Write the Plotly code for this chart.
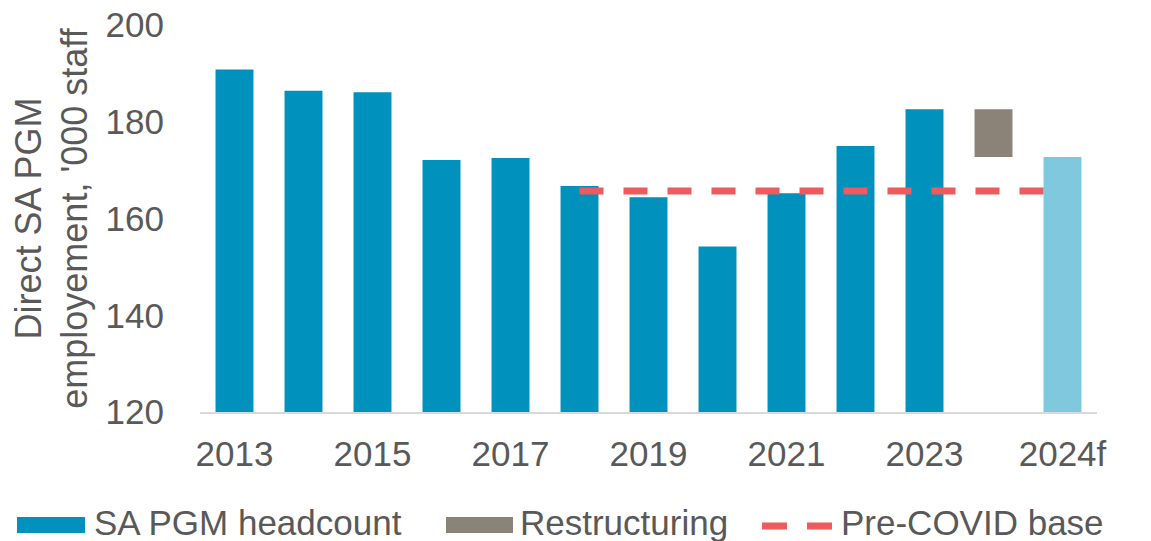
import plotly.graph_objects as go

categories = ["2013", "2014", "2015", "2016", "2017", "2018", "2019", "2020",
              "2021", "2022", "2023", " ", "2024f"]
headcount_x = ["2013", "2014", "2015", "2016", "2017", "2018", "2019", "2020",
               "2021", "2022", "2023", "2024f"]
headcount = [190.8, 186.4, 186.1, 172.1, 172.5, 166.7, 164.4, 154.2,
             165.2, 175.0, 182.6, 172.7]
restructuring_x = [" "]
restructuring_low = [172.7]
restructuring_high = [182.6]
precovid_x = ["2018", "2019", "2020", "2021", "2022", "2023", " ", "2024f"]
precovid = [165.7] * 8
tick_labels = ["2013", "2015", "2017", "2019", "2021", "2023", "2024f"]
y_ticks = [120, 140, 160, 180, 200]
legend_names = ["SA PGM headcount", "Restructuring", "Pre-COVID base"]

BLUE = "#0091BD"
LIGHT_BLUE = "#7FC8DE"
GRAY = "#8B8378"
RED = "#EE5B5E"
TEXT = "#595959"
FONT = "Liberation Sans, Arial, sans-serif"

W, H = 1151, 541
ML, MR, MT, MB = 200, 54, 25, 129
PW, PH = W - ML - MR, H - MT - MB


def px_x(p):
    return (p - ML) / PW


def px_y(p):
    return (H - MB - p) / PH


bar_colors = [BLUE] * (len(headcount) - 1) + [LIGHT_BLUE]

fig = go.Figure()
fig.add_trace(go.Bar(
    x=headcount_x, y=[v - 120 for v in headcount], base=120,
    marker=dict(color=bar_colors, line=dict(width=0)),
    name=legend_names[0], showlegend=False,
))
fig.add_trace(go.Bar(
    x=restructuring_x,
    y=[h - l for h, l in zip(restructuring_high, restructuring_low)],
    base=restructuring_low,
    marker=dict(color=GRAY, line=dict(width=0)),
    name=legend_names[1], showlegend=False,
))
fig.add_trace(go.Scatter(
    x=precovid_x, y=precovid, mode="lines",
    line=dict(color=RED, width=7, dash="24px,20px"),
    name=legend_names[2], showlegend=False,
))

# Manual legend (large swatches like the original)
shapes = [
    dict(type="rect", xref="paper", yref="paper",
         x0=px_x(17), x1=px_x(85), y0=px_y(533), y1=px_y(517),
         fillcolor=BLUE, line=dict(width=0)),
    dict(type="rect", xref="paper", yref="paper",
         x0=px_x(446), x1=px_x(513), y0=px_y(533), y1=px_y(517),
         fillcolor=GRAY, line=dict(width=0)),
    dict(type="line", xref="paper", yref="paper",
         x0=px_x(762), x1=px_x(832), y0=px_y(526), y1=px_y(526),
         line=dict(color=RED, width=7, dash="25px,20px")),
]
annotations = [
    dict(xref="paper", yref="paper", x=px_x(xs), y=px_y(522),
         xanchor="left", yanchor="middle", showarrow=False, text=name,
         font=dict(family=FONT, size=35, color=TEXT))
    for xs, name in zip([92, 518, 839], legend_names)
]

fig.update_layout(
    width=W, height=H,
    paper_bgcolor="white", plot_bgcolor="white",
    margin=dict(l=ML, r=MR, t=MT, b=MB, autoexpand=False),
    barmode="overlay", bargap=0.45,
    font=dict(family=FONT, color=TEXT, size=35),
    showlegend=False,
    shapes=shapes, annotations=annotations,
    xaxis=dict(
        type="category", categoryorder="array", categoryarray=categories,
        tickmode="array", tickvals=tick_labels, ticktext=tick_labels,
        showline=True, linecolor="#D9D9D9", linewidth=2,
        showgrid=False, ticks="", ticklabelstandoff=10,
        tickfont=dict(size=35, color=TEXT),
    ),
    yaxis=dict(
        range=[120, 200], tickvals=y_ticks,
        showgrid=False, zeroline=False, showline=False, ticks="",
        ticklabelstandoff=35,
        tickfont=dict(size=35, color=TEXT),
        title=dict(text="Direct SA PGM<br>employement, '000 staff",
                   font=dict(size=36, color=TEXT), standoff=6),
    ),
)

fig.write_html(
    "out.html",
    config={"displayModeBar": False},
    post_script="document.body.style.margin='0';document.body.style.overflow='hidden';",
)
